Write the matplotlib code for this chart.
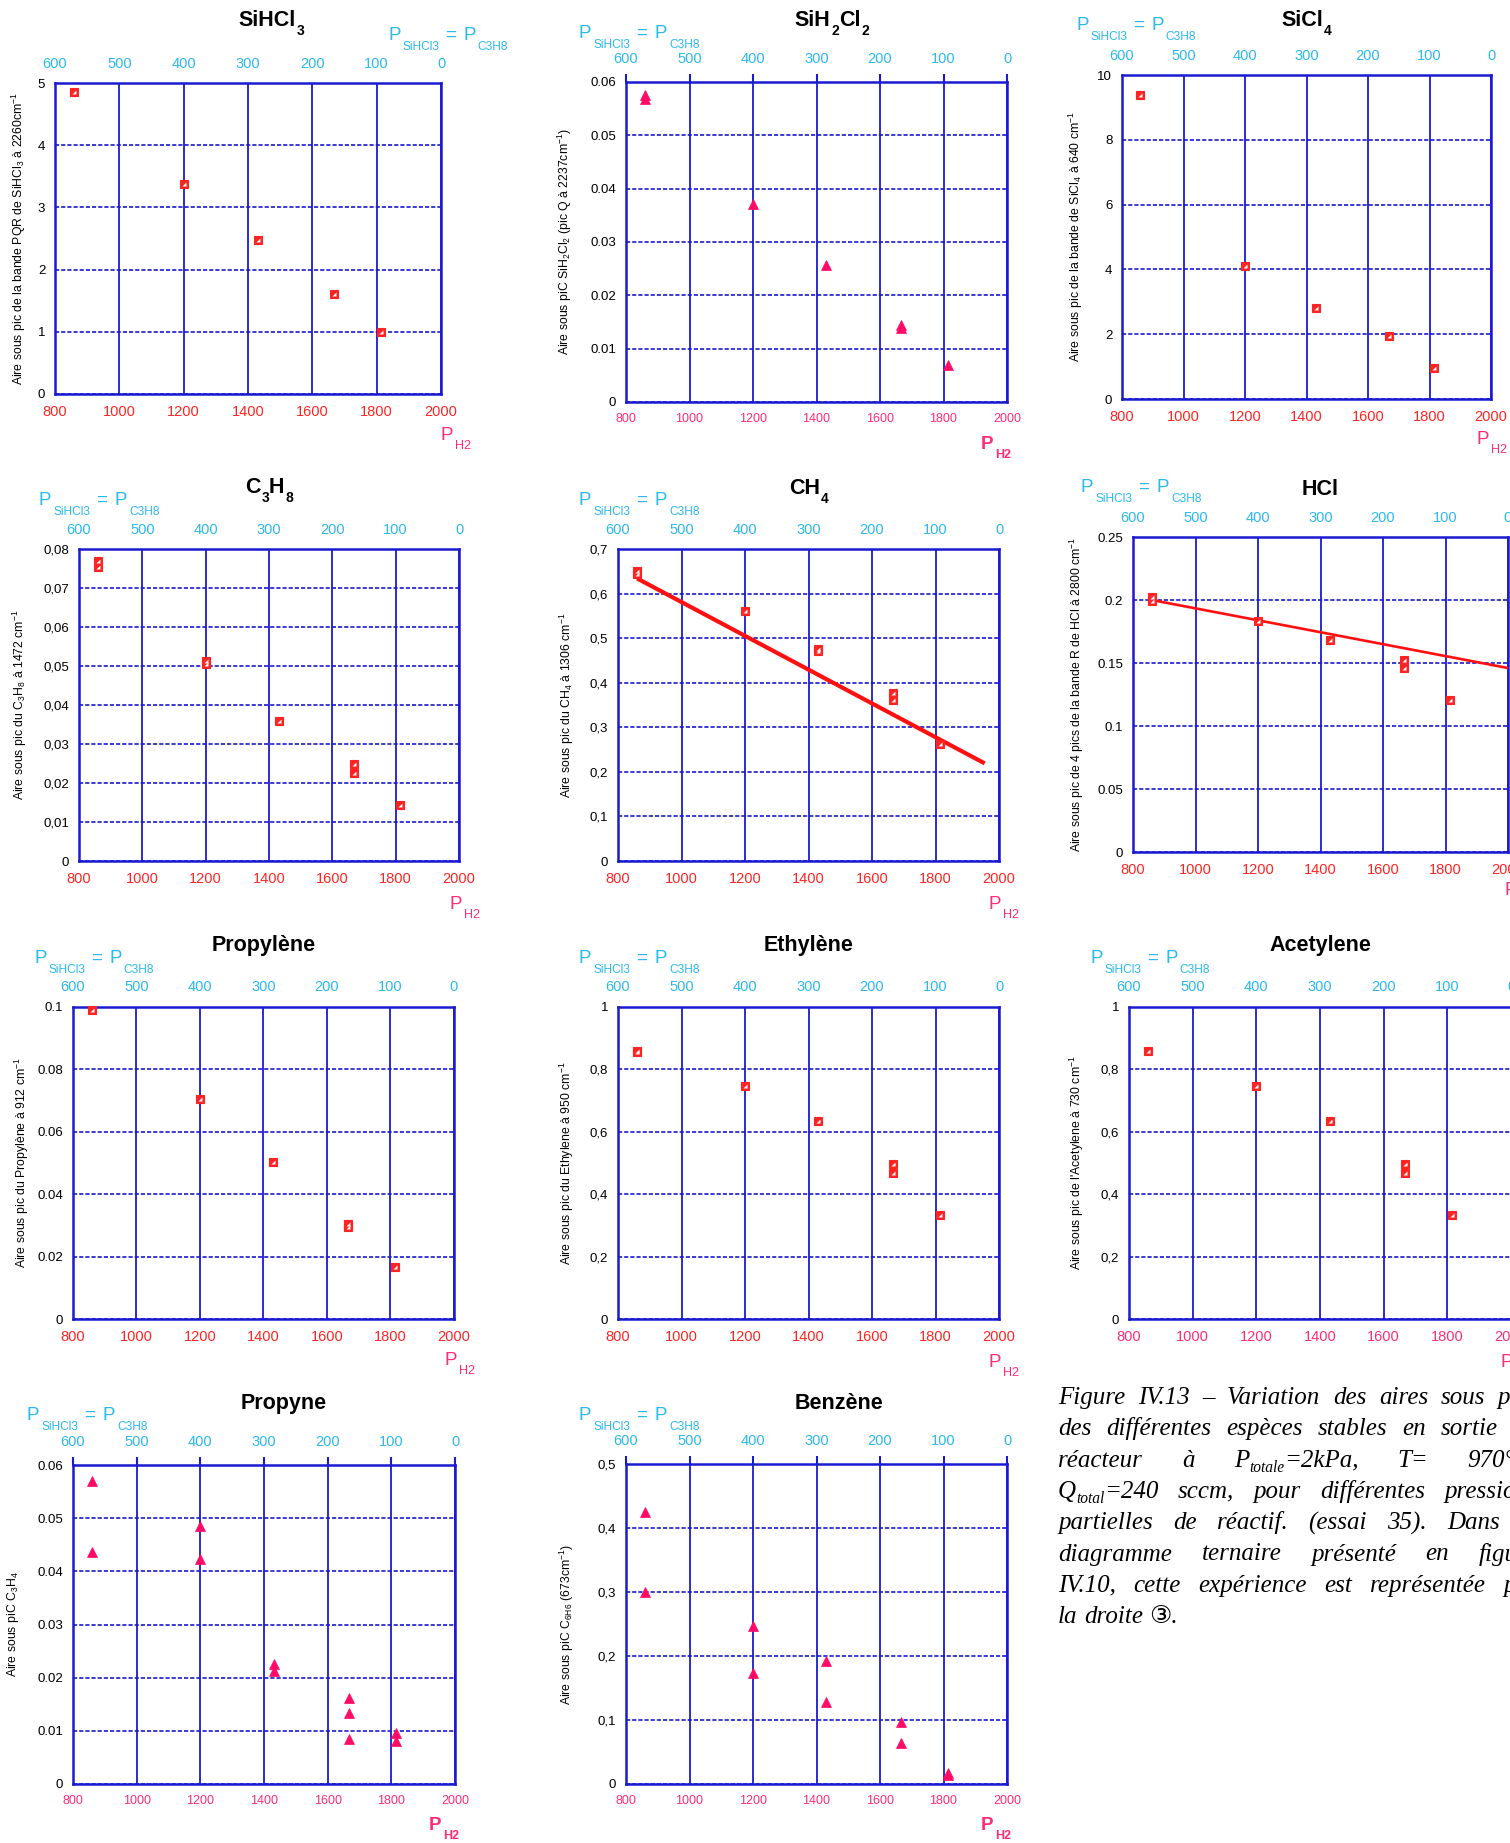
import re
import matplotlib.pyplot as plt

plt.rcParams['font.family'] = ['Liberation Sans', 'DejaVu Sans']
plt.rcParams['mathtext.fontset'] = 'custom'
plt.rcParams['mathtext.rm'] = 'Liberation Sans'
plt.rcParams['mathtext.it'] = 'Liberation Sans:italic'
plt.rcParams['mathtext.bf'] = 'Liberation Sans:bold'

W, H = 1510, 1843
BLUE = '#1a1ad0'
CYAN = '#2bb9f0'
RED = '#ff2424'
PINK = '#ff2d78'
TRI = '#ff0a66'

# ---------------- data ----------------
ph2_ticks = [800, 1000, 1200, 1400, 1600, 1800, 2000]
psihcl3_ticks = [600, 500, 400, 300, 200, 100, 0]

sihcl3_x = [860, 1200, 1430, 1667, 1815]
sihcl3_y = [4.85, 3.37, 2.48, 1.61, 1.00]
sihcl3_yticks = ['0', '1', '2', '3', '4', '5']

sih2cl2_x = [860, 860, 1200, 1430, 1667, 1667, 1815]
sih2cl2_y = [0.0575, 0.0569, 0.0371, 0.0256, 0.0144, 0.0138, 0.0069]
sih2cl2_yticks = ['0', '0.01', '0.02', '0.03', '0.04', '0.05', '0.06']

sicl4_x = [860, 1200, 1430, 1667, 1815]
sicl4_y = [9.39, 4.10, 2.80, 1.93, 0.95]
sicl4_yticks = ['0', '2', '4', '6', '8', '10']

c3h8_x = [860, 860, 1200, 1200, 1430, 1667, 1667, 1815]
c3h8_y = [0.0768, 0.0754, 0.0514, 0.0506, 0.0360, 0.0248, 0.0226, 0.0144]
c3h8_yticks = ['0', '0,01', '0,02', '0,03', '0,04', '0,05', '0,06', '0,07', '0,08']

ch4_x = [860, 860, 1200, 1430, 1430, 1667, 1667, 1815]
ch4_y = [0.651, 0.644, 0.560, 0.475, 0.471, 0.378, 0.362, 0.263]
ch4_fit_x = [860, 1955]
ch4_fit_y = [0.634, 0.219]
ch4_yticks = ['0', '0,1', '0,2', '0,3', '0,4', '0,5', '0,6', '0,7']

hcl_x = [860, 860, 1200, 1430, 1667, 1667, 1815]
hcl_y = [0.202, 0.1995, 0.1836, 0.1685, 0.1526, 0.146, 0.1209]
hcl_fit_x = [860, 2000]
hcl_fit_y = [0.200, 0.146]
hcl_yticks = ['0', '0.05', '0.1', '0.15', '0.2', '0.25']

propylene_x = [860, 1200, 1430, 1667, 1667, 1815]
propylene_y = [0.0991, 0.0704, 0.0502, 0.0304, 0.0295, 0.0168]
propylene_yticks = ['0', '0.02', '0.04', '0.06', '0.08', '0.1']

ethylene_x = [860, 860, 1200, 1430, 1667, 1667, 1815]
ethylene_y = [0.860, 0.855, 0.7465, 0.635, 0.496, 0.467, 0.334]
ethylene_yticks = ['0', '0,2', '0,4', '0,6', '0,8', '1']

acetylene_x = [860, 1200, 1430, 1667, 1667, 1815]
acetylene_y = [0.860, 0.7465, 0.636, 0.496, 0.467, 0.334]
acetylene_yticks = ['0', '0,2', '0,4', '0,6', '0,8', '1']

propyne_x = [860, 860, 1200, 1200, 1430, 1430, 1667, 1667, 1667, 1815, 1815]
propyne_y = [0.0570, 0.0437, 0.0485, 0.0424, 0.0225, 0.0213, 0.0162, 0.0133, 0.0085, 0.0095, 0.0081]
propyne_yticks = ['0', '0.01', '0.02', '0.03', '0.04', '0.05', '0.06']

benzene_x = [860, 860, 1200, 1200, 1430, 1430, 1667, 1667, 1815, 1815]
benzene_y = [0.4254, 0.2998, 0.2471, 0.1741, 0.1929, 0.1288, 0.0975, 0.0636, 0.0167, 0.0136]
benzene_yticks = ['0', '0,1', '0,2', '0,3', '0,4', '0,5']

caption_lines = [
    'Figure IV.13 – Variation des aires sous pics',
    'des différentes espèces stables en sortie du',
    'réacteur à P_{totale}=2kPa, T= 970°C,',
    'Q_{total}=240 sccm, pour différentes pressions',
    'partielles de réactif. (essai 35). Dans le',
    'diagramme ternaire présenté en figure',
    'IV.10, cette expérience est représentée par',
    'la droite ③.',
]

# box = (left, top, right, bottom) in pixels; offsets in pixels
panels = [
    dict(title='SiHCl_{3}', x=sihcl3_x, y=sihcl3_y, yt=sihcl3_yticks, mk='sq',
         ylabel=r'Aire sous pic de la bande PQR de SiHCl$_{\mathrm{3}}$ à 2260cm$^{\mathrm{-1}}$',
         box=(55, 83, 441, 394), tdx=23, tdy=65, pl=(333, 50), ylx=36, ph=(-1, 39), xs='red', bold=False),
    dict(title='SiH_{2}Cl_{2}', x=sih2cl2_x, y=sih2cl2_y, yt=sih2cl2_yticks, mk='tri',
         ylabel=r'Aire sous piC SiH$_{\mathrm{2}}$Cl$_{\mathrm{2}}$ (pic Q à 2237cm$^{\mathrm{-1}}$)',
         box=(626, 82, 1007, 402), tdx=15, tdy=64, pl=(-47, 51), ylx=61, ph=(-26, 40), xs='pinks', bold=True),
    dict(title='SiCl_{4}', x=sicl4_x, y=sicl4_y, yt=sicl4_yticks, mk='sq',
         ylabel=r'Aire sous pic de la bande de SiCl$_{\mathrm{4}}$ à 640 cm$^{\mathrm{-1}}$',
         box=(1122, 75, 1491, 399), tdx=0, tdy=57, pl=(-46, 52), ylx=46, ph=(-14, 38), xs='red', bold=False),
    dict(title='C_{3}H_{8}', x=c3h8_x, y=c3h8_y, yt=c3h8_yticks, mk='sq',
         ylabel=r'Aire sous pic du C$_{\mathrm{3}}$H$_{\mathrm{8}}$ à 1472 cm$^{\mathrm{-1}}$',
         box=(79, 549, 459, 861), tdx=0, tdy=64, pl=(-40, 51), ylx=59, ph=(-10, 41), xs='red', bold=False),
    dict(title='CH_{4}', x=ch4_x, y=ch4_y, yt=ch4_yticks, mk='sq', fx=ch4_fit_x, fy=ch4_fit_y, flw=3.0,
         ylabel=r'Aire sous pic du CH$_{\mathrm{4}}$ à 1306 cm$^{\mathrm{-1}}$',
         box=(618, 549, 999, 861), tdx=0, tdy=63, pl=(-39, 51), ylx=51, ph=(-10, 41), xs='red', bold=False),
    dict(title='HCl', x=hcl_x, y=hcl_y, yt=hcl_yticks, mk='sq', fx=hcl_fit_x, fy=hcl_fit_y, flw=1.9,
         ylabel=r'Aire sous pic de 4 pics de la bande R de HCl à 2800 cm$^{\mathrm{-1}}$',
         box=(1133, 537, 1508, 852), tdx=0, tdy=50, pl=(-52, 52), ylx=56, ph=(-3, 36), xs='red', bold=False),
    dict(title='Propylène', x=propylene_x, y=propylene_y, yt=propylene_yticks, mk='sq',
         ylabel=r'Aire sous pic du Propylène à 912 cm$^{\mathrm{-1}}$',
         box=(73, 1007, 454, 1319), tdx=0, tdy=64, pl=(-39, 51), ylx=51, ph=(-9, 39), xs='red', bold=False),
    dict(title='Ethylène', x=ethylene_x, y=ethylene_y, yt=ethylene_yticks, mk='sq',
         ylabel=r'Aire sous pic du Ethylene à 950 cm$^{\mathrm{-1}}$',
         box=(618, 1007, 999, 1319), tdx=0, tdy=64, pl=(-39, 51), ylx=51, ph=(-10, 41), xs='red', bold=False),
    dict(title='Acetylene', x=acetylene_x, y=acetylene_y, yt=acetylene_yticks, mk='sq',
         ylabel=r"Aire sous pic de l'Acetylene à 730 cm$^{\mathrm{-1}}$",
         box=(1129, 1007, 1511, 1319), tdx=0, tdy=64, pl=(-39, 51), ylx=52, ph=(-11, 41), xs='pink', bold=False),
    dict(title='Propyne', x=propyne_x, y=propyne_y, yt=propyne_yticks, mk='tri',
         ylabel=r'Aire sous piC C$_{\mathrm{3}}$H$_{\mathrm{4}}$',
         box=(73, 1465, 455, 1784), tdx=20, tdy=64, pl=(-46, 52), ylx=60, ph=(-26, 39), xs='pinks', bold=True),
    dict(title='Benzène', x=benzene_x, y=benzene_y, yt=benzene_yticks, mk='tri',
         ylabel=r'Aire sous piC C$_{\mathrm{6H6}}$ (673cm$^{\mathrm{-1}}$)',
         box=(626, 1464, 1007, 1784), tdx=22, tdy=63, pl=(-47, 51), ylx=59, ph=(-26, 39), xs='pinks', bold=True),
]

fig = plt.figure(figsize=(W / 100, H / 100), dpi=100)
fig.patch.set_facecolor('white')
rend = fig.canvas.get_renderer()


def word_parts(word):
    parts = re.split(r'_\{(.*?)\}', word)
    return [(s, i % 2 == 1) for i, s in enumerate(parts) if s]


def rich(ax, segs, xy, off, center=False, color='black'):
    # segs: (text, fontsize, drop_px, weight, gap_before_px)
    items = []
    for s, fs, drop, fw, gap in segs:
        t = ax.annotate(s, xy=xy, xycoords='axes fraction', xytext=off, textcoords='offset pixels',
                        fontsize=fs, fontweight=fw, color=color, ha='left', va='baseline',
                        annotation_clip=False)
        items.append((t, t.get_window_extent(rend).width, drop, gap))
    total = sum(w + g for _, w, _, g in items)
    x = off[0] - total / 2 if center else off[0]
    for t, w, drop, gap in items:
        x += gap
        t.xyann = (x, off[1] - drop)
        x += w


def draw_panel(p):
    l, t, r, b = p['box']
    ax = fig.add_axes([l / W, 1 - b / H, (r - l) / W, (b - t) / H])
    yt = [float(s.replace(',', '.')) for s in p['yt']]
    ax.set_xlim(ph2_ticks[0], ph2_ticks[-1])
    ax.set_ylim(yt[0], yt[-1])
    ax.set_xticks(ph2_ticks)
    ax.set_yticks(yt)
    ax.set_yticklabels(p['yt'])
    if p['xs'] == 'red':
        xcol, xsize = RED, 10.5
    elif p['xs'] == 'pink':
        xcol, xsize = PINK, 10.5
    else:
        xcol, xsize = PINK, 9
    ax.tick_params(axis='x', length=0, labelcolor=xcol, labelsize=xsize, pad=8)
    ax.tick_params(axis='y', length=0, labelcolor='black', labelsize=9.5, pad=7)
    ax.xaxis.grid(True, color=BLUE, lw=1.3, ls='-')
    ax.yaxis.grid(True, color=BLUE, lw=1.2, ls=(0, (2.5, 1.2)))
    ax.set_axisbelow(True)
    for s in ax.spines.values():
        s.set_color(BLUE)
        s.set_linewidth(1.8)

    # top axis: P_SiHCl3 = P_C3H8
    ax2 = ax.twiny()
    ax2.set_xlim(psihcl3_ticks[0], psihcl3_ticks[-1])
    ax2.set_xticks(psihcl3_ticks)
    top_len = 6 if p['bold'] else 0
    ax2.tick_params(axis='x', length=top_len, width=1.5, color=BLUE, labelcolor=CYAN,
                    labelsize=10.5, pad=9 - top_len * 0.6, direction='out')
    for s in ax2.spines.values():
        s.set_visible(False)

    if 'fx' in p:
        ax.plot(p['fx'], p['fy'], color='#ff1010', lw=p['flw'], zorder=5, solid_capstyle='butt')

    if p['mk'] == 'sq':
        ax.plot(p['x'], p['y'], ls='none', marker='s', ms=6.0, mfc=RED, mec=RED, mew=0.8,
                zorder=6, clip_on=False)
        ax.plot(p['x'], p['y'], ls='none', marker=[(-1, -1), (1, -1), (1, 1)], ms=3.4,
                mfc='white', mec='none', zorder=7, clip_on=False)
    else:
        ax.plot(p['x'], p['y'], ls='none', marker='^', ms=6.5, mfc=TRI, mec=TRI, mew=0.5,
                zorder=6, clip_on=False)

    # title with dropped subscripts
    tsegs = [(s, 10 if sub else 15.5, 9 if sub else 0, 'bold', 1 if sub else 0)
             for s, sub in word_parts(p['title'])]
    rich(ax, tsegs, (0.5, 1), (p['tdx'], p['tdy'] - 8), center=True)

    # P_SiHCl3 = P_C3H8
    psegs = [('P', 13.5, 0, 'normal', 0), ('SiHCl3', 8.6, 10, 'normal', 2),
             ('=', 13.5, 0, 'normal', 6), ('P', 13.5, 0, 'normal', 7), ('C3H8', 8.6, 10, 'normal', 2)]
    rich(ax, psegs, (0, 1), (p['pl'][0], p['pl'][1] - 7), color=CYAN)

    # P_H2
    fw = 'bold' if p['bold'] else 'normal'
    hsegs = [('P', 13.5, 0, fw, 0), ('H2', 9, 9, fw, 2)]
    rich(ax, hsegs, (1, 0), (p['ph'][0], -(p['ph'][1] + 7)), color=PINK)

    # y label
    ax.text(-p['ylx'] / (r - l), 0.5, p['ylabel'], transform=ax.transAxes, rotation=90,
            ha='center', va='center', fontsize=8.8, color='black')


for p in panels:
    draw_panel(p)

# ---------------- caption (justified, clipped by the page edge) ----------------
cap_size = 18
cap_x0, cap_w = 1058, 480
cap_y0, cap_dy = 1404, 31.3
cap_family = ['Liberation Serif', 'DejaVu Sans']

for i, line in enumerate(caption_lines):
    yb = cap_y0 + i * cap_dy
    groups = []
    for w in line.split(' '):
        items = []
        for s, sub in word_parts(w):
            t = fig.text(0, 0, s, fontsize=cap_size * (0.62 if sub else 1), family=cap_family,
                         style='italic', color='black', va='baseline', ha='left')
            items.append((t, t.get_window_extent(rend).width, sub))
        groups.append(items)
    widths = [sum(it[1] for it in g) for g in groups]
    if i < len(caption_lines) - 1:
        gap = (cap_w - sum(widths)) / (len(groups) - 1)
    else:
        gap = cap_size * 100 / 72 * 0.25
    x = cap_x0
    for g in groups:
        for t, tw, sub in g:
            t.set_position((x / W, 1 - (yb + (5 if sub else 0)) / H))
            x += tw
        x += gap

fig.savefig('out.png', dpi=100, facecolor='white')
